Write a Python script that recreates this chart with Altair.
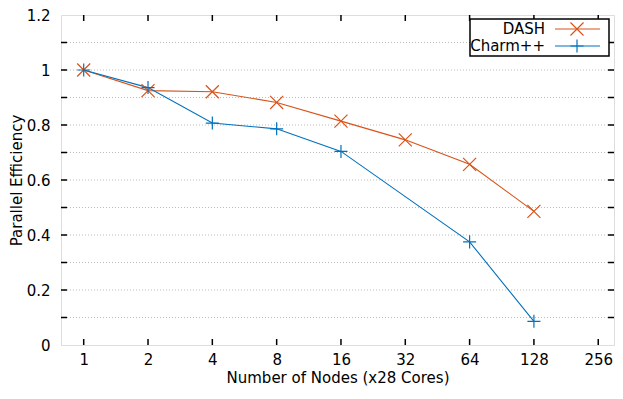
import altair as alt
import pandas as pd

nodes = [1, 2, 4, 8, 16, 32, 64, 128]
dash = [1.0, 0.925, 0.921, 0.882, 0.814, 0.746, 0.657, 0.486]
charm_nodes = [1, 2, 4, 8, 16, 64, 128]
charm = [1.0, 0.936, 0.807, 0.786, 0.704, 0.375, 0.086]
series = ["DASH", "Charm++"]
colors = ["#D95319", "#0072BD"]
x_ticks = [1, 2, 4, 8, 16, 32, 64, 128, 256]
y_labels = [0, 0.2, 0.4, 0.6, 0.8, 1.0, 1.2]
y_minor = [0.1, 0.2, 0.3, 0.4, 0.5, 0.6, 0.7, 0.8, 0.9, 1.0, 1.1]

W, H = 553, 330
FONT = "DejaVu Sans"
FS = 15

df = pd.concat([
    pd.DataFrame({"nodes": nodes, "eff": dash, "series": "DASH"}),
    pd.DataFrame({"nodes": charm_nodes, "eff": charm, "series": "Charm++"}),
])

xscale = alt.Scale(type="log", base=2, domain=[0.783, 303.4])
yscale = alt.Scale(domain=[0, 1.2])
cscale = alt.Scale(domain=series, range=colors)

shape_x = "M-1,-1L1,1M-1,1L1,-1"
shape_plus = "M-1,0L1,0M0,-1L0,1"

base = alt.Chart(df)

lines = base.mark_line(strokeWidth=1.1, clip=True).encode(
    x=alt.X("nodes:Q", scale=xscale,
            axis=alt.Axis(values=x_ticks, format="d", title="Number of Nodes (x28 Cores)",
                          grid=False, domain=False, ticks=False, labelFont=FONT,
                          labelFontSize=FS, titleFont=FONT, titleFontSize=FS,
                          titleFontWeight="normal", labelColor="black", titleColor="black",
                          labelPadding=7, titlePadding=3)),
    y=alt.Y("eff:Q", scale=yscale,
            axis=alt.Axis(values=y_labels, format="~g", title="Parallel Efficiency",
                          grid=False, domain=False, ticks=False, labelFont=FONT,
                          labelFontSize=FS, titleFont=FONT, titleFontSize=FS,
                          titleFontWeight="normal", labelColor="black", titleColor="black",
                          labelPadding=11, titlePadding=2)),
    color=alt.Color("series:N", scale=cscale, legend=None),
    detail="series:N",
)

pts_dash = alt.Chart(df[df.series == "DASH"]).mark_point(
    shape=shape_x, size=170, strokeWidth=1.2, filled=False, opacity=1).encode(
    x=alt.X("nodes:Q", scale=xscale), y=alt.Y("eff:Q", scale=yscale),
    color=alt.Color("series:N", scale=cscale, legend=None))
pts_charm = alt.Chart(df[df.series == "Charm++"]).mark_point(
    shape=shape_plus, size=170, strokeWidth=1.2, filled=False, opacity=1).encode(
    x=alt.X("nodes:Q", scale=xscale), y=alt.Y("eff:Q", scale=yscale),
    color=alt.Color("series:N", scale=cscale, legend=None))

grid_df = pd.DataFrame({"y": y_minor})
grid = alt.Chart(grid_df).mark_rule(color="#bbbbbb", strokeDash=[1, 2], strokeWidth=1).encode(
    y=alt.Y("y:Q", scale=yscale), x=alt.value(0), x2=alt.value(W))

ytick_df = pd.DataFrame({"y": y_minor})
ytl = alt.Chart(ytick_df).mark_rule(color="black", strokeWidth=1.5).encode(
    y=alt.Y("y:Q", scale=yscale), x=alt.value(0), x2=alt.value(6))
ytr = alt.Chart(ytick_df).mark_rule(color="black", strokeWidth=1.5).encode(
    y=alt.Y("y:Q", scale=yscale), x=alt.value(W - 6), x2=alt.value(W))

xtick_df = pd.DataFrame({"x": x_ticks})
xtb = alt.Chart(xtick_df).mark_rule(color="black", strokeWidth=1.5).encode(
    x=alt.X("x:Q", scale=xscale), y=alt.value(H - 6), y2=alt.value(H))
xtt = alt.Chart(xtick_df).mark_rule(color="black", strokeWidth=1.5).encode(
    x=alt.X("x:Q", scale=xscale), y=alt.value(0), y2=alt.value(6))

# legend (gnuplot style, top right inside a box)
legend_box = alt.Chart(pd.DataFrame({"a": [0]})).mark_rect(
    fill="white", stroke="black", strokeWidth=1.5).encode(
    x=alt.value(409), x2=alt.value(548), y=alt.value(4), y2=alt.value(41))

leg_layers = [legend_box]
leg_y = [14, 31]
leg_shapes = [shape_x, shape_plus]
for name, col, yy, shp in zip(series, colors, leg_y, leg_shapes):
    d = pd.DataFrame({"name": [name]})
    leg_layers.append(alt.Chart(d).mark_text(
        align="right", baseline="middle", font=FONT, fontSize=FS, color="black").encode(
        text="name:N", x=alt.value(484), y=alt.value(yy)))
    leg_layers.append(alt.Chart(d).mark_rule(color=col, strokeWidth=1.1).encode(
        x=alt.value(494), x2=alt.value(539), y=alt.value(yy)))
    leg_layers.append(alt.Chart(d).mark_point(
        shape=shp, size=170, strokeWidth=1.2, filled=False, opacity=1, color=col).encode(
        x=alt.value(516), y=alt.value(yy)))

chart = alt.layer(grid, lines, pts_dash, pts_charm, ytl, ytr, xtb, xtt, *leg_layers).properties(
    width=W, height=H,
    autosize=alt.AutoSizeParams(type="none"),
    padding={"left": 53, "top": 7, "right": 1, "bottom": 42},
).configure_view(stroke="black", strokeWidth=2).configure(background="white")

chart.save("out.html", embed_options={"renderer": "svg", "actions": False})
